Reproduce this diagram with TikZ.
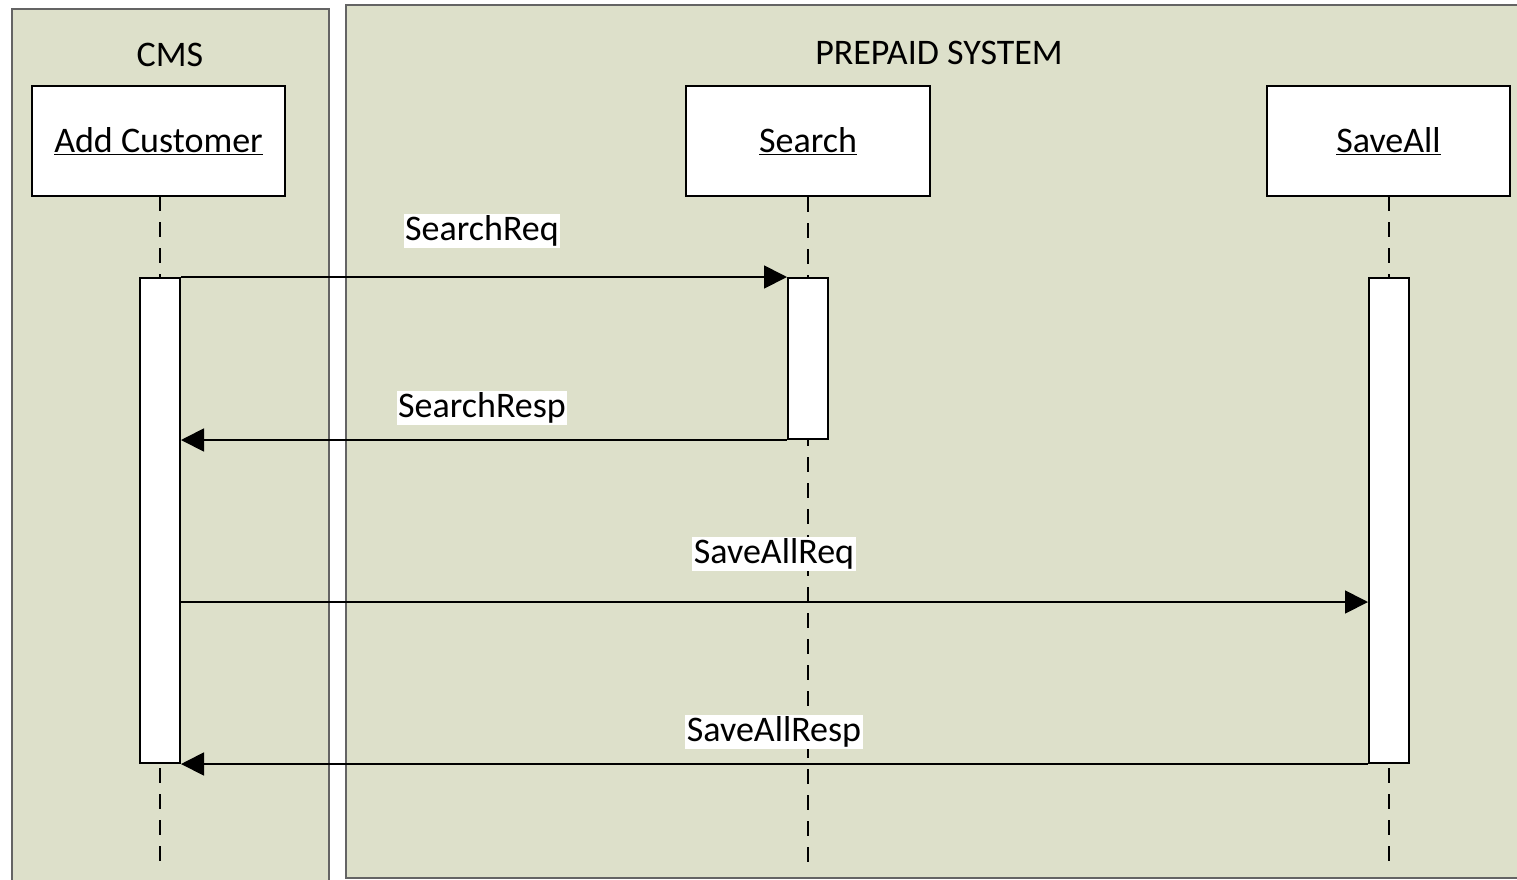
\documentclass[tikz,border=0pt]{standalone}
\usepackage{fontspec}
\setmainfont{Carlito}
\usetikzlibrary{arrows.meta}
\definecolor{panelfill}{RGB}{221,224,202}
\definecolor{panelline}{RGB}{100,100,100}
\begin{document}
\begin{tikzpicture}[x=1pt,y=-1pt,
  panel/.style={fill=panelfill,draw=panelline,line width=1.6pt},
  title/.style={font=\fontsize{36}{42}\selectfont,inner sep=0pt},
  objbox/.style={draw=black,fill=white,line width=2pt,minimum width=#1,minimum height=110pt,inner sep=0pt,font=\fontsize{36}{42}\selectfont},
  actbar/.style={draw=black,fill=white,line width=2pt,minimum width=40pt,inner sep=0pt},
  lifeline/.style={line width=1.8pt,dash pattern=on 15pt off 11pt},
  msg/.style={line width=1.8pt,-{Triangle[length=23pt,width=23pt]}},
  msglabel/.style={fill=white,font=\fontsize{36}{42}\selectfont,inner sep=1.5pt}
]
\useasboundingbox (0,0) rectangle (1517,879);
\clip (0,0) rectangle (1517,879);
% panels
\draw[panel] (12,9) rectangle (329,900);
\draw[panel] (346,5) rectangle (1530,878);
\node[title] (cmstitle) at (170,55) {CMS};
\node[title] (pretitle) at (939,53) {PREPAID SYSTEM};
% objects
\node[objbox=253pt] (addc) at (158.5,141) {\underline{Add Customer}};
\node[objbox=244pt] (search) at (808,141) {\underline{Search}};
\node[objbox=243pt] (saveall) at (1388.5,141) {\underline{SaveAll}};
% lifeline ends
\coordinate (addend) at (160,862);
\coordinate (searchend) at (808,862);
\coordinate (saveend) at (1389,862);
\draw[lifeline] (160,196) -- (addend);
\draw[lifeline] (search.south) -- (searchend);
\draw[lifeline] (1389,196) -- (saveend);
% activation bars
\node[actbar,minimum height=485pt] (cmsbar) at (160,520.5) {};
\node[actbar,minimum height=161pt] (searchbar) at (808,358.5) {};
\node[actbar,minimum height=485pt] (savebar) at (1389,520.5) {};
% messages
\draw[msg] (cmsbar.north east) -- (searchbar.north west);
\draw[msg] (searchbar.south west) -- (cmsbar.east |- searchbar.south);
\coordinate (reqy) at (0,602);
\draw[msg] (cmsbar.east |- reqy) -- (savebar.west |- reqy);
\draw[msg] (savebar.south west) -- (cmsbar.south east);
% labels
\node[msglabel] (l1) at (482,231) {SearchReq};
\node[msglabel] (l2) at (482,408) {SearchResp};
\node[msglabel] (l3) at (774,554) {SaveAllReq};
\node[msglabel] (l4) at (774,732) {SaveAllResp};
\end{tikzpicture}
\end{document}
